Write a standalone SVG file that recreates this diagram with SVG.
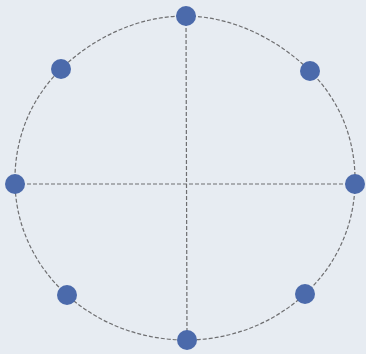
<svg xmlns="http://www.w3.org/2000/svg" width="366" height="354" viewBox="0 0 366 354">
<style>
.dash{fill:none;stroke:#6e6e70;stroke-width:1.2;stroke-dasharray:4 2}
.dot{fill:#4b6aab}
</style>
<rect width="366" height="354" fill="#e7ecf2"/>
<g id="connectors">
<path class="dash" d="M186,16 C232.7,16.4 278.3,39.5 310,71 C341.7,102.5 355.9,142.2 355,184 C354.1,225.8 336.5,264.75 305,294 C273.5,323.25 231.6,339.8 187,340 C142.4,340.2 99.25,324.25 67,295 C34.75,265.75 16.1,226.4 15,184 C13.9,141.6 28.9,100.5 61,69 C93.1,37.5 139.3,15.6 186,16 Z"/>
<line class="dash" x1="186" y1="16" x2="187" y2="340"/>
<line class="dash" x1="15" y1="184" x2="355" y2="184"/>
</g>
<g id="n-top"><circle class="dot" cx="186" cy="16" r="10"/></g>
<g id="n-ne"><circle class="dot" cx="310" cy="71" r="10"/></g>
<g id="n-e"><circle class="dot" cx="355" cy="184" r="10"/></g>
<g id="n-se"><circle class="dot" cx="305" cy="294" r="10"/></g>
<g id="n-bottom"><circle class="dot" cx="187" cy="340" r="10"/></g>
<g id="n-sw"><circle class="dot" cx="67" cy="295" r="10"/></g>
<g id="n-w"><circle class="dot" cx="15" cy="184" r="10"/></g>
<g id="n-nw"><circle class="dot" cx="61" cy="69" r="10"/></g>
</svg>
